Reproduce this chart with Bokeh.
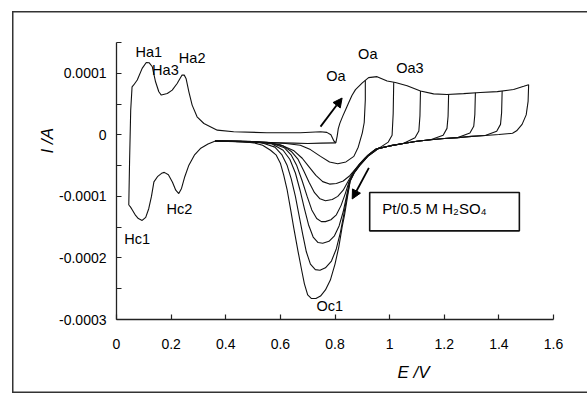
import numpy as np
from bokeh.plotting import figure
from bokeh.models import FixedTicker, Label, Arrow, NormalHead, ColumnDataSource, Title
from bokeh.core.properties import value
from bokeh.embed import file_html
from bokeh.resources import INLINE

# ---------------- data ----------------
x_ticks = [0.0, 0.2, 0.4, 0.6, 0.8, 1.0, 1.2, 1.4, 1.6]
x_tick_labels = ["0", "0.2", "0.4", "0.6", "0.8", "1", "1.2", "1.4", "1.6"]
y_ticks = [-0.0003, -0.00025, -0.0002, -0.00015, -0.0001, -0.00005, 0.0, 0.00005, 0.0001, 0.00015]
y_tick_labels = ["-0.0003", "", "-0.0002", "", "-0.0001", "", "0", "", "0.0001", ""]

# anodic sweep (common to all cycles), E / V and I / A
anodic_E = [0.045, 0.048, 0.052, 0.057, 0.063, 0.076, 0.094, 0.109, 0.12, 0.131, 0.143, 0.155,
            0.164, 0.175, 0.186, 0.204, 0.222, 0.24, 0.248, 0.255, 0.265, 0.277, 0.295, 0.32,
            0.369, 0.429, 0.55, 0.673, 0.747, 0.77, 0.785, 0.796, 0.803, 0.808, 0.812, 0.818,
            0.828, 0.84, 0.85, 0.862, 0.875, 0.9, 0.923, 0.954, 0.991, 1.021, 1.064, 1.113,
            1.161, 1.21, 1.271, 1.332, 1.394, 1.454, 1.491, 1.509]
anodic_I = [-1.14e-4, -4.0e-5, 4.0e-5, 7.8e-5, 8.1e-5, 8.9e-5, 1.08e-4, 1.176e-4, 1.17e-4, 1.106e-4, 8.62e-5, 7.0e-5,
            6.46e-5, 6.6e-5, 6.72e-5, 7.27e-5, 8.34e-5, 9.71e-5, 9.7e-5, 9.1e-5, 6.99e-5, 4.83e-5, 2.93e-5, 1.84e-5,
            7.6e-6, 4.9e-6, 3.5e-6, 3.5e-6, 5.0e-6, 4.0e-6, 0.0, -1.0e-5, -1.3e-5, -2.0e-6, 1.0e-5, 1.9e-5,
            3.0e-5, 4.2e-5, 5.2e-5, 6.4e-5, 7.35e-5, 8.45e-5, 9.3e-5, 9.45e-5, 8.75e-5, 8.5e-5, 7.96e-5, 7.13e-5,
            6.65e-5, 6.56e-5, 6.7e-5, 6.88e-5, 7.02e-5, 7.37e-5, 7.88e-5, 8.14e-5]

# upper reversal potentials of the eight cycles
vertex_E = [0.803, 0.911, 1.015, 1.113, 1.216, 1.314, 1.412, 1.509]

# shared return line of the cathodic sweeps in the oxide region
return_E = [0.96, 1.00, 1.05, 1.10, 1.15, 1.20, 1.25, 1.30, 1.35, 1.40, 1.45]
return_I = [-2.2e-5, -1.8e-5, -1.4e-5, -1.05e-5, -8.0e-6, -6.0e-6, -4.5e-6, -2.5e-6, -1.0e-6, 0.5e-6, 2.5e-6]

# cathodic branches (reduction peak Oc1 region)
c1_E = [0.75, 0.7, 0.65, 0.6, 0.55, 0.5, 0.45, 0.4, 0.362]
c1_I = [-1.35e-5, -1.4e-5, -1.35e-5, -1.3e-5, -1.25e-5, -1.2e-5, -1.1e-5, -1.05e-5, -1.02e-5]
c2_E = [0.911, 0.907, 0.9, 0.885, 0.869, 0.84, 0.81, 0.78, 0.747, 0.71, 0.673, 0.62, 0.55, 0.45, 0.362]
c2_I = [5.7e-5, 2.0e-5, 3.3e-6, -2.0e-5, -3.5e-5, -4.4e-5, -4.7e-5, -4.4e-5, -3.5e-5, -2.4e-5, -1.7e-5, -1.4e-5, -1.2e-5, -1.1e-5, -1.02e-5]
c3_E = [0.95, 0.93, 0.91, 0.88, 0.855, 0.83, 0.805, 0.78, 0.755, 0.73, 0.705, 0.68, 0.65, 0.6, 0.55, 0.45, 0.362]
c3_I = [-2.3e-5, -3.0e-5, -3.8e-5, -5.3e-5, -6.6e-5, -7.5e-5, -7.9e-5, -8.0e-5, -7.6e-5, -6.6e-5, -5.2e-5, -3.8e-5, -2.6e-5, -1.6e-5, -1.2e-5, -1.05e-5, -1.02e-5]
c4_E = [0.95, 0.92, 0.89, 0.865, 0.845, 0.83, 0.81, 0.79, 0.765, 0.745, 0.725, 0.705, 0.685, 0.665, 0.64, 0.61, 0.56, 0.5, 0.362]
c4_I = [-2.3e-5, -3.3e-5, -4.7e-5, -6.2e-5, -7.8e-5, -9.0e-5, -1.0e-4, -1.05e-4, -1.07e-4, -1.04e-4, -9.4e-5, -7.7e-5, -5.8e-5, -4.0e-5, -2.7e-5, -1.8e-5, -1.3e-5, -1.1e-5, -1.02e-5]
c5_E = [0.95, 0.92, 0.89, 0.868, 0.85, 0.838, 0.822, 0.805, 0.785, 0.765, 0.75, 0.733, 0.715, 0.698, 0.68, 0.66, 0.64, 0.615, 0.57, 0.5, 0.362]
c5_I = [-2.4e-5, -3.4e-5, -4.8e-5, -6.2e-5, -7.8e-5, -9.5e-5, -1.15e-4, -1.3e-4, -1.38e-4, -1.41e-4, -1.41e-4, -1.36e-4, -1.22e-4, -1.0e-4, -7.5e-5, -5.0e-5, -3.3e-5, -2.1e-5, -1.4e-5, -1.1e-5, -1.02e-5]
c6_E = [0.95, 0.92, 0.89, 0.869, 0.853, 0.842, 0.83, 0.815, 0.798, 0.778, 0.755, 0.738, 0.72, 0.703, 0.688, 0.672, 0.655, 0.635, 0.61, 0.57, 0.5, 0.362]
c6_I = [-2.4e-5, -3.4e-5, -4.9e-5, -6.2e-5, -7.6e-5, -1.0e-4, -1.25e-4, -1.48e-4, -1.64e-4, -1.73e-4, -1.76e-4, -1.75e-4, -1.66e-4, -1.46e-4, -1.2e-4, -9.0e-5, -6.2e-5, -4.0e-5, -2.5e-5, -1.5e-5, -1.1e-5, -1.02e-5]
c7_E = [0.95, 0.92, 0.89, 0.87, 0.855, 0.844, 0.832, 0.82, 0.805, 0.787, 0.765, 0.745, 0.728, 0.71, 0.695, 0.682, 0.668, 0.655, 0.64, 0.625, 0.605, 0.58, 0.54, 0.5, 0.362]
c7_I = [-2.5e-5, -3.5e-5, -5.0e-5, -6.2e-5, -7.6e-5, -1.0e-4, -1.3e-4, -1.58e-4, -1.85e-4, -2.05e-4, -2.16e-4, -2.2e-4, -2.19e-4, -2.1e-4, -1.9e-4, -1.62e-4, -1.3e-4, -1.0e-4, -7.2e-5, -5.0e-5, -3.2e-5, -2.0e-5, -1.4e-5, -1.1e-5, -1.02e-5]
c8_E = [0.95, 0.92, 0.89, 0.87, 0.856, 0.846, 0.835, 0.826, 0.814, 0.8, 0.783, 0.765, 0.747, 0.73, 0.714, 0.7, 0.688, 0.678, 0.665, 0.649, 0.637, 0.625, 0.612, 0.6, 0.585, 0.564, 0.535, 0.503, 0.454, 0.362]
c8_I = [-2.5e-5, -3.5e-5, -5.0e-5, -6.2e-5, -7.4e-5, -1.0e-4, -1.3e-4, -1.5e-4, -1.82e-4, -2.1e-4, -2.36e-4, -2.52e-4, -2.62e-4, -2.66e-4, -2.66e-4, -2.6e-4, -2.42e-4, -2.2e-4, -1.9e-4, -1.51e-4, -1.2e-4, -9.0e-5, -6.5e-5, -4.6e-5, -3.3e-5, -2.5e-5, -1.7e-5, -1.3e-5, -1.05e-5, -1.02e-5]
# fall-off from the 1.5 V vertex
c8_drop_E = [1.507, 1.5, 1.485, 1.465]
c8_drop_I = [5.44e-5, 3.24e-5, 1.7e-5, 6.5e-6]

# hydrogen region, cathodic sweep
hyd_E = [0.362, 0.335, 0.307, 0.285, 0.265, 0.25, 0.238, 0.228, 0.217, 0.205, 0.19, 0.175, 0.165, 0.15,
         0.137, 0.128, 0.118, 0.107, 0.094, 0.08, 0.07, 0.058, 0.051, 0.045]
hyd_I = [-1.02e-5, -1.5e-5, -2.23e-5, -3.3e-5, -4.93e-5, -6.8e-5, -8.7e-5, -9.54e-5, -9.0e-5, -7.7e-5, -6.5e-5, -6.1e-5, -6.25e-5, -6.8e-5,
         -7.64e-5, -1.0e-4, -1.2e-4, -1.34e-4, -1.39e-4, -1.36e-4, -1.31e-4, -1.22e-4, -1.17e-4, -1.14e-4]

# peak labels
label_text = ["Ha1", "Ha3", "Ha2", "Hc1", "Hc2", "Oa", "Oa", "Oa3", "Oc1"]
label_E = [0.118, 0.179, 0.277, 0.076, 0.23, 0.803, 0.92, 1.074, 0.781]
label_I = [1.34e-4, 1.06e-4, 1.247e-4, -1.70e-4, -1.20e-4, 9.5e-5, 1.31e-4, 1.09e-4, -2.78e-4]

# sweep-direction arrows
arrow_E0 = [0.747, 0.924]
arrow_I0 = [1.33e-5, -5.37e-5]
arrow_E1 = [0.826, 0.863]
arrow_I1 = [5.98e-5, -1.042e-4]

# legend box
box_E = [0.927, 1.475]
box_I = [-1.56e-4, -9.37e-5]
box_text = "Pt/0.5 M H\u2082SO\u2084"
box_text_pos = (0.973, -1.196e-4)

# ---------------- build the curve paths ----------------
def env(e):
    return float(np.interp(e, anodic_E, anodic_I))

def ret(e):
    return float(np.interp(e, return_E, return_I))

def drop(vE):
    iv = env(vE)
    ir = ret(vE)
    xs = [vE, vE - 0.002, vE - 0.006, vE - 0.02]
    ys = [iv, 0.5 * (iv + ir), ir + 1.6e-5, ir + 5e-6]
    for e, i in sorted(zip(return_E, return_I), reverse=True):
        if e < vE - 0.04:
            xs.append(e)
            ys.append(i)
    return xs, ys

paths_x, paths_y = [], []
paths_x.append([vertex_E[0]] + c1_E)
paths_y.append([env(vertex_E[0])] + c1_I)
paths_x.append([vertex_E[1]] + c2_E)
paths_y.append([env(vertex_E[1])] + c2_I)
for vE, pe, pi in zip(vertex_E[2:7], [c3_E, c4_E, c5_E, c6_E, c7_E], [c3_I, c4_I, c5_I, c6_I, c7_I]):
    dx, dy = drop(vE)
    paths_x.append(dx + pe)
    paths_y.append(dy + pi)
r8 = [(e, i) for e, i in sorted(zip(return_E, return_I), reverse=True) if e < 1.46]
main_x = anodic_E + c8_drop_E + [e for e, _ in r8] + c8_E + hyd_E[1:]
main_y = anodic_I + c8_drop_I + [i for _, i in r8] + c8_I + hyd_I[1:]
paths_x.append(main_x)
paths_y.append(main_y)

# ---------------- figure ----------------
FONT = "Liberation Sans"
p = figure(width=587, height=394, x_range=(0, 1.6), y_range=(-0.0003, 0.00015),
           output_backend="svg", toolbar_location=None,
           min_border_left=116, min_border_right=34, min_border_top=42, min_border_bottom=75)
p.xgrid.grid_line_color = None
p.ygrid.grid_line_color = None
p.outline_line_color = None
p.background_fill_color = "white"
p.border_fill_color = None
# outer frame of the original figure (left, top and bottom edges)
p.styles = {"box-shadow": ("inset 12px 0 0 0 #ffffff, inset 0 11px 0 0 #ffffff, inset 0 -1px 0 0 #ffffff, "
                           "inset 13.5px 0 0 0 #333333, inset 0 12.5px 0 0 #333333, inset 0 -2.5px 0 0 #333333")}

p.xaxis.ticker = FixedTicker(ticks=x_ticks)
p.xaxis.major_label_overrides = dict(zip(x_ticks, x_tick_labels))
p.yaxis.ticker = FixedTicker(ticks=y_ticks)
p.yaxis.major_label_overrides = dict(zip(y_ticks, y_tick_labels))
for ax in (p.xaxis[0], p.yaxis[0]):
    ax.major_tick_in = 5
    ax.major_tick_out = 0
    ax.minor_tick_line_color = None
    ax.axis_line_width = 1.3
    ax.axis_line_color = "#222222"
    ax.major_tick_line_color = "#222222"
    ax.major_tick_line_width = 1.2
    ax.major_label_text_font = FONT
    ax.major_label_text_font_size = "14px"
    ax.major_label_text_color = "black"
p.xaxis.major_label_standoff = 19
p.yaxis.major_label_standoff = 10

p.multi_line(xs=paths_x, ys=paths_y, line_color="#111111", line_width=1.1)

# legend box
p.quad(left=[box_E[0]], right=[box_E[1]], bottom=[box_I[0]], top=[box_I[1]],
       fill_color=None, line_color="#111111", line_width=1.6)
p.add_layout(Label(x=box_text_pos[0], y=box_text_pos[1], text=box_text, text_font=FONT,
                   text_font_size="15px", text_align="left", text_baseline="middle", text_color="black"))

# peak labels
src = ColumnDataSource(dict(x=label_E, y=label_I, t=label_text))
p.text(x="x", y="y", text="t", source=src, text_font=value(FONT), text_font_size="14.5px",
       text_align="center", text_baseline="middle", text_color="black")

# arrows
for x0, y0, x1, y1 in zip(arrow_E0, arrow_I0, arrow_E1, arrow_I1):
    p.add_layout(Arrow(x_start=x0, y_start=y0, x_end=x1, y_end=y1, line_width=1.8, line_color="black",
                       end=NormalHead(size=9, fill_color="black", line_color="black")))

# axis titles (positioned like the original, off-centre)
p.add_layout(Title(text="E /V", align="left", offset=281, standoff=18, text_font=FONT,
                   text_font_size="17px", text_font_style="italic", text_color="black"), "below")
p.add_layout(Title(text="I /A", align="left", offset=166, standoff=0, text_font=FONT,
                   text_font_size="17px", text_font_style="italic", text_color="black"), "left")

open("out.html", "w").write(file_html(p, INLINE))
